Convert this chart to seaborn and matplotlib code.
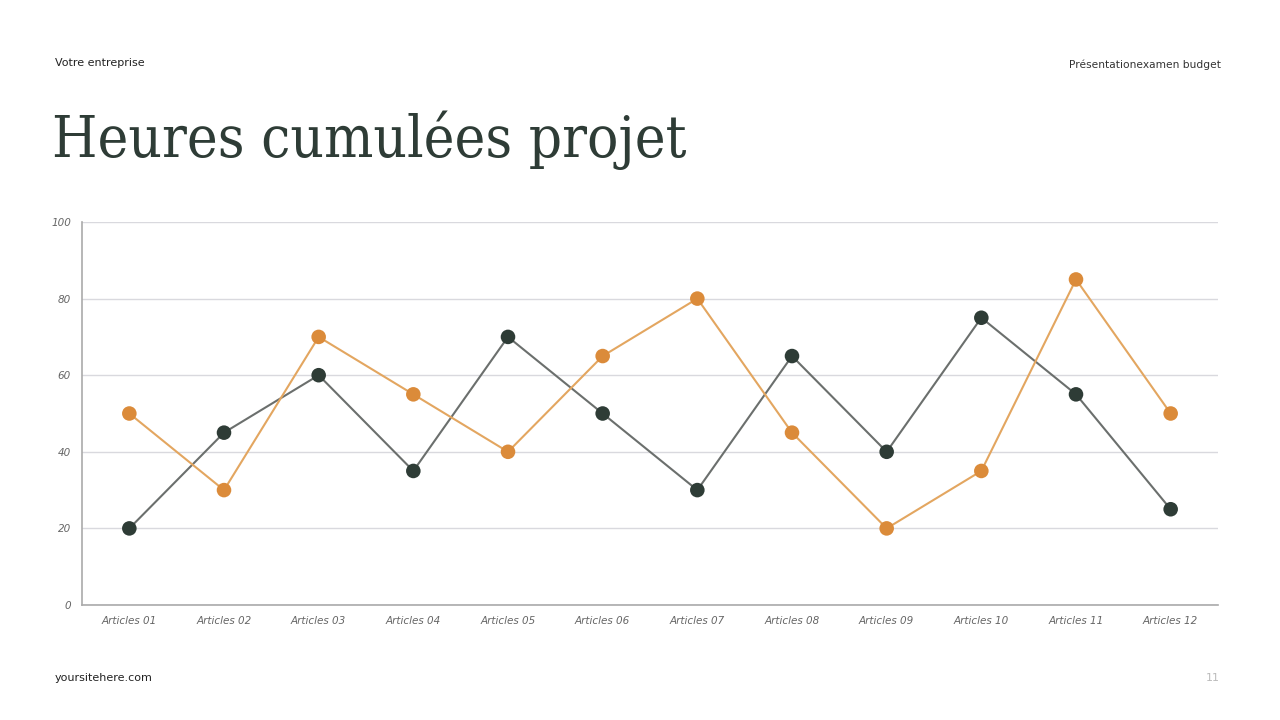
import matplotlib
matplotlib.use('Agg')
import matplotlib.pyplot as plt
import seaborn as sns
import pandas as pd

# data
articles = ['Articles 01', 'Articles 02', 'Articles 03', 'Articles 04', 'Articles 05', 'Articles 06',
            'Articles 07', 'Articles 08', 'Articles 09', 'Articles 10', 'Articles 11', 'Articles 12']
serie_sombre = [20, 45, 60, 35, 70, 50, 30, 65, 40, 75, 55, 25]
serie_orange = [50, 30, 70, 55, 40, 65, 80, 45, 20, 35, 85, 50]
y_ticks = [0, 20, 40, 60, 80, 100]

dark = '#2e3c36'
orange = '#db8b3a'

sns.set_theme(style='white')
plt.rcParams['font.family'] = ['DejaVu Sans']

df = pd.DataFrame({'article': articles, 'sombre': serie_sombre, 'orange': serie_orange})
df['pos'] = range(len(df))

fig = plt.figure(figsize=(12.8, 7.2), dpi=100)
fig.patch.set_facecolor('white')
ax = fig.add_axes([82 / 1280, 1 - 605 / 720, (1218 - 82) / 1280, (605 - 222) / 720])
ax.set_facecolor('white')

sns.lineplot(data=df, x='pos', y='sombre', ax=ax, color='#6b6f6d', linewidth=1.5, zorder=3)
sns.lineplot(data=df, x='pos', y='orange', ax=ax, color='#e3a660', linewidth=1.5, zorder=3)
sns.scatterplot(data=df, x='pos', y='sombre', ax=ax, color=dark, s=110, edgecolor='none', zorder=4)
sns.scatterplot(data=df, x='pos', y='orange', ax=ax, color=orange, s=110, edgecolor='none', zorder=4)

ax.set_xlim(-0.5, len(articles) - 0.5)
ax.set_ylim(0, 100)
ax.set_yticks(y_ticks)
ax.set_yticklabels([str(v) for v in y_ticks], fontstyle='italic', color='#666666', fontsize=7.5)
ax.set_xticks(range(len(articles)))
ax.set_xticklabels(articles, fontstyle='italic', color='#666666', fontsize=7.5)
ax.tick_params(axis='both', length=0, pad=8)
ax.set_xlabel('')
ax.set_ylabel('')
ax.yaxis.grid(True, color='#d9d9de', linewidth=1)
for s in ['top', 'right']:
    ax.spines[s].set_visible(False)
for s in ['left', 'bottom']:
    ax.spines[s].set_color('#aaaaaa')
    ax.spines[s].set_linewidth(1.2)

fig.text(55 / 1280, 1 - 63 / 720, 'Votre entreprise', fontsize=8, color='#222222', va='center', ha='left')
fig.text(1221 / 1280, 1 - 65 / 720, 'Présentationexamen budget', fontsize=7.7, color='#333333',
         va='center', ha='right')
fig.text(52 / 1280, 1 - 140 / 720, 'Heures cumulées projet', fontsize=41.8, color=dark,
         family='DejaVu Serif', stretch='condensed', weight='medium', va='center', ha='left')
fig.text(55 / 1280, 1 - 678 / 720, 'yoursitehere.com', fontsize=8, color='#222222', va='center', ha='left')
fig.text(1220 / 1280, 1 - 678 / 720, '11', fontsize=8, color='#bbbbbb', va='center', ha='right')

fig.savefig('out.png', dpi=100)
